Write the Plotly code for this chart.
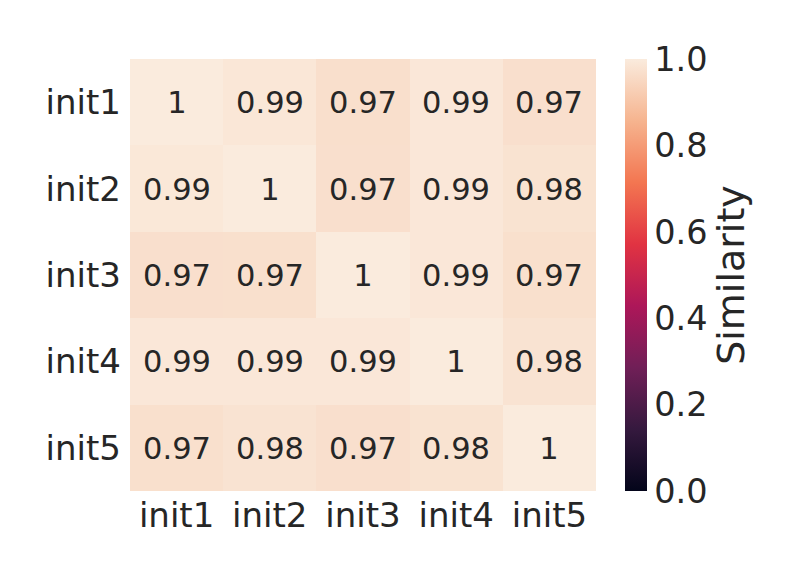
import plotly.graph_objects as go

labels = ["init1", "init2", "init3", "init4", "init5"]
sim = [
    [1.000, 0.989, 0.968, 0.990, 0.970],
    [0.991, 1.000, 0.970, 0.990, 0.978],
    [0.970, 0.971, 1.000, 0.990, 0.971],
    [0.990, 0.990, 0.990, 1.000, 0.980],
    [0.971, 0.979, 0.970, 0.978, 1.000],
]
cbar_ticks = [0, 0.2, 0.4, 0.6, 0.8, 1.0]
cbar_ticktext = ["0.0", "0.2", "0.4", "0.6", "0.8", "1.0"]

rocket = [
    [0.0, "#03051a"],
    [1/7, "#35193e"],
    [2/7, "#701f57"],
    [3/7, "#ad1759"],
    [4/7, "#e13342"],
    [5/7, "#f37651"],
    [6/7, "#f6b48f"],
    [1.0, "#faebdd"],
]

text = [[f"{v:.2g}" for v in row] for row in sim]

fig = go.Figure(go.Heatmap(
    z=sim, x=labels, y=labels,
    colorscale=rocket, zmin=0, zmax=1,
    text=text, texttemplate="%{text}",
    textfont=dict(size=30.5, color="#262626", family="DejaVu Sans"),
    xgap=0, ygap=0,
    colorbar=dict(
        x=1.062, xanchor="left", xref="paper",
        y=0.5, yanchor="middle", len=1.0, lenmode="fraction", ypad=0, xpad=0,
        thickness=22, outlinewidth=0, ticks="",
        tickvals=cbar_ticks, ticktext=cbar_ticktext,
        tickfont=dict(size=33.5, color="#262626"),
        title=dict(text="Similarity", side="right", font=dict(size=38, color="#262626")),
    ),
))

fig.update_layout(
    width=792, height=576,
    margin=dict(l=122, r=204, t=51, b=93, pad=0),
    paper_bgcolor="white", plot_bgcolor="white",
    font=dict(family="DejaVu Sans", color="#262626", size=34),
    xaxis=dict(showgrid=False, zeroline=False, ticks="", tickfont=dict(size=34), ticklabelstandoff=1),
    yaxis=dict(showgrid=False, zeroline=False, ticks="", autorange="reversed", tickfont=dict(size=34), ticklabelstandoff=8),
)

fig.write_html("out.html")
